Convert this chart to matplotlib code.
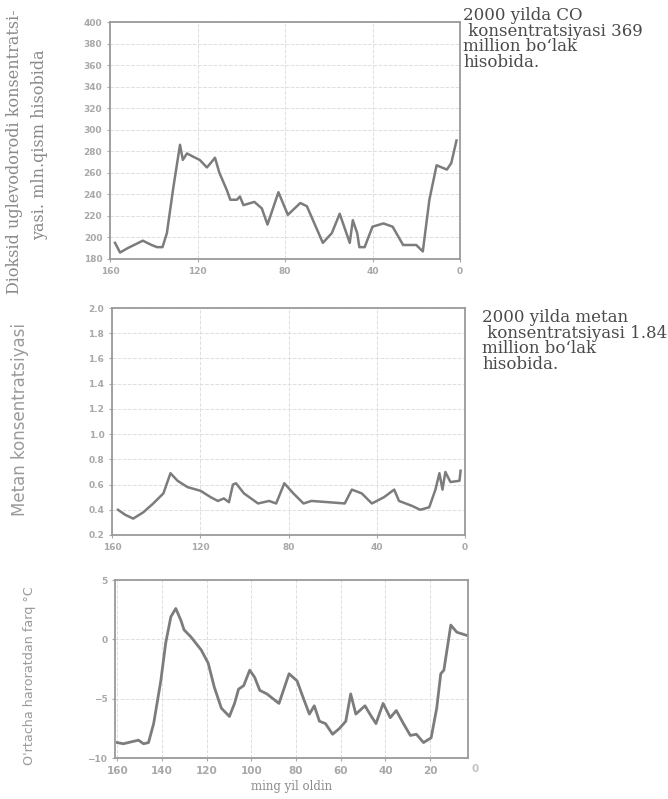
import matplotlib
matplotlib.use("Agg")
import matplotlib.pyplot as plt

# --- data (thousand years ago) -------------------------------------------
co2_age = [157.7, 155.4, 152.0, 148.0, 145.0, 141.0, 138.5, 136.0, 134.0, 131.0,
           128.0, 126.7, 124.8, 122.0, 119.0, 115.7, 114.0, 112.0, 110.0, 106.6,
           105.0, 102.0, 100.6, 99.0, 94.0, 90.6, 88.0, 83.0, 78.7, 73.0,
           70.0, 62.7, 58.6, 55.0, 50.4, 49.0, 47.0, 46.0, 43.6, 40.0,
           35.0, 30.8, 26.0, 20.0, 17.0, 14.0, 10.7, 6.0, 4.0, 1.6]
co2_ppm = [195, 186, 190, 194, 197, 193, 191, 191, 204, 247,
           286, 272, 278, 275, 272, 265, 269, 274, 260, 244,
           235, 235, 238, 230, 233, 227, 212, 242, 221, 232,
           229, 195, 204, 222, 195, 216, 204, 191, 191, 210,
           213, 210, 193, 193, 187, 235, 267, 263, 269, 290]

ch4_age = [157.3, 154.0, 150.4, 145.8, 141.3, 136.7, 133.5, 130.3, 125.8, 119.8,
           115.3, 112.0, 109.3, 107.0, 105.2, 103.8, 100.2, 93.8, 88.8, 85.6,
           81.9, 77.8, 73.2, 69.6, 61.8, 54.5, 51.3, 46.8, 42.2, 36.7,
           32.1, 29.9, 23.9, 20.3, 16.2, 13.4, 11.6, 10.2, 8.9, 6.6,
           2.5, 2.0]
ch4_ppm = [0.40, 0.36, 0.33, 0.38, 0.45, 0.53, 0.69, 0.63, 0.58, 0.55,
           0.50, 0.47, 0.49, 0.46, 0.60, 0.61, 0.53, 0.45, 0.47, 0.45,
           0.61, 0.53, 0.45, 0.47, 0.46, 0.45, 0.56, 0.53, 0.45, 0.50,
           0.56, 0.47, 0.43, 0.40, 0.42, 0.56, 0.69, 0.56, 0.70, 0.62,
           0.63, 0.71]

temp_age = [160.0, 157.3, 152.8, 150.5, 148.2, 146.0, 143.7, 140.5, 138.3, 136.0,
            133.8, 131.5, 130.1, 127.0, 122.4, 119.3, 116.6, 113.4, 109.8, 107.5,
            105.7, 103.4, 100.7, 98.5, 96.2, 93.0, 87.6, 83.1, 79.5, 77.4,
            74.0, 71.8, 69.5, 66.8, 63.6, 60.5, 57.7, 55.5, 53.2, 49.1,
            46.9, 44.2, 41.0, 37.8, 35.1, 31.9, 28.8, 26.1, 22.9, 19.5,
            17.0, 15.2, 13.8, 10.7, 8.0, 3.0]
temp_dev = [-8.7, -8.8, -8.6, -8.5, -8.8, -8.7, -7.1, -3.5, -0.3, 1.9,
            2.6, 1.6, 0.8, 0.2, -0.9, -2.0, -4.0, -5.8, -6.5, -5.4,
            -4.2, -3.9, -2.6, -3.2, -4.3, -4.6, -5.4, -2.9, -3.5, -4.6,
            -6.3, -5.6, -6.9, -7.1, -8.0, -7.5, -6.9, -4.6, -6.3, -5.6,
            -6.3, -7.1, -5.4, -6.6, -6.0, -7.1, -8.1, -8.0, -8.7, -8.3,
            -5.8, -2.9, -2.6, 1.2, 0.6, 0.3]

co2_yticks = list(range(180, 401, 20))
ch4_yticks = [0.2, 0.4, 0.6, 0.8, 1.0, 1.2, 1.4, 1.6, 1.8, 2.0]
temp_yticks = [-10, -5, 0, 5]

# --- layout (pixel boxes from the reference) ----------------------------
W, H = 668, 799
fig = plt.figure(figsize=(W / 100, H / 100), dpi=100)
fig.patch.set_facecolor("white")

LINE = "#7c7c7c"
TICK = "#a8a8a8"
SPINE = "#9a9a9a"
GRID = "#dedede"
LABEL = "#8a8a8a"
SERIF = ["DejaVu Serif"]
NOTE = ["DejaVu Serif"]


def px_axes(l, t, r, b):
    return fig.add_axes([l / W, 1 - b / H, (r - l) / W, (b - t) / H])


def style(ax):
    for s in ax.spines.values():
        s.set_color(SPINE)
        s.set_linewidth(1.3)
    ax.tick_params(colors=TICK, labelsize=6.5, length=2, width=0.8,
                   labelcolor=TICK)
    for lab in ax.get_xticklabels() + ax.get_yticklabels():
        lab.set_fontweight("bold")
    ax.grid(True, ls="--", lw=0.7, color=GRID)
    ax.set_axisbelow(True)


# 1. CO2
ax1 = px_axes(110, 22, 460, 259)
ax1.plot(co2_age, co2_ppm, color=LINE, lw=1.8)
ax1.set_xlim(160, 0)
ax1.set_ylim(180, 400)
ax1.set_xticks([160, 120, 80, 40, 0])
ax1.set_yticks(co2_yticks)
style(ax1)

# 2. methane
ax2 = px_axes(112, 308, 465, 535)
ax2.plot(ch4_age, ch4_ppm, color=LINE, lw=1.8)
ax2.set_xlim(160, 0)
ax2.set_ylim(0.2, 2.0)
ax2.set_xticks([160, 120, 80, 40, 0])
ax2.set_yticks(ch4_yticks)
ax2.set_yticklabels([f"{v:.1f}" for v in ch4_yticks])
style(ax2)

# 3. temperature
ax3 = px_axes(115, 580, 468, 758)
ax3.plot(temp_age, temp_dev, color=LINE, lw=2.0)
ax3.set_xlim(161, 3)
ax3.set_ylim(-10, 5)
ax3.set_xticks([160, 140, 120, 100, 80, 60, 40, 20])
ax3.set_yticks(temp_yticks)
style(ax3)
ax3.tick_params(axis="x", labelsize=7.5)
ax3.text(0, -0.035, "0", transform=ax3.get_xaxis_transform(), ha="center",
         va="top", fontsize=7.5, color="#c4c4c4", fontweight="bold")
ax3.set_xlabel("ming yil oldin", fontsize=8.5, color=LABEL, family=SERIF,
               labelpad=3)

# axis titles (rotated, left side)
fig.text(15 / W, 1 - 152 / H, "Dioksid uglevodorodi konsentratsi-",
         rotation=90, ha="center", va="center", fontsize=11.5, color=LABEL,
         family=SERIF)
fig.text(40 / W, 1 - 145 / H, "yasi. mln.qism hisobida",
         rotation=90, ha="center", va="center", fontsize=11.5, color=LABEL,
         family=SERIF)
fig.text(20 / W, 1 - 420 / H, "Metan konsentratsiyasi",
         rotation=90, ha="center", va="center", fontsize=12, color="#9a9a9a",
         family="DejaVu Sans")
fig.text(30 / W, 1 - 676 / H, "O'rtacha haroratdan farq °C",
         rotation=90, ha="center", va="center", fontsize=9.2, color="#9a9a9a",
         family="DejaVu Sans")

# notes on the right
fig.text(463 / W, 1 - 7 / H,
         "2000 yilda CO\n konsentratsiyasi 369\nmillion bo‘lak\nhisobida.",
         ha="left", va="top", fontsize=12, color="#4a4a4a", family=NOTE,
         linespacing=0.9)
fig.text(482 / W, 1 - 309 / H,
         "2000 yilda metan\n konsentratsiyasi 1.84\nmillion bo‘lak\nhisobida.",
         ha="left", va="top", fontsize=12, color="#4a4a4a", family=NOTE,
         linespacing=0.9)

fig.savefig("out.png", dpi=100)
